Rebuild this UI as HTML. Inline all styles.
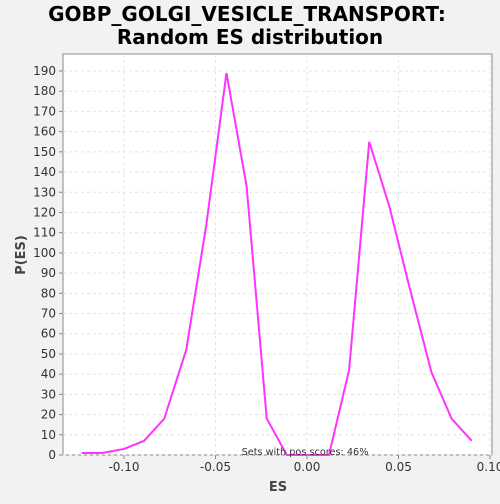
<!DOCTYPE html>
<html><head><meta charset="utf-8"><style>
body{margin:0;background:#f2f2f2;width:500px;height:500px;overflow:hidden;font-family:"DejaVu Sans","Liberation Sans",sans-serif}
</style></head><body>
<svg width="500" height="500" id="c">
<rect x="0" y="0" width="500" height="500" fill="#f2f2f2"/>
<text x="247" y="21" text-anchor="middle" font-size="20" font-weight="bold" fill="#000">GOBP_GOLGI_VESICLE_TRANSPORT:</text>
<text x="250" y="44" text-anchor="middle" font-size="20" font-weight="bold" fill="#000">Random ES distribution</text>
<rect x="63" y="54" width="429" height="401" fill="#fff" stroke="#888"/>
<g id="grid"></g><g id="ticks"></g>
<text x="278" y="491" text-anchor="middle" font-size="13" font-weight="bold" fill="#444">ES</text>
<text x="25" y="255" text-anchor="middle" font-size="13" font-weight="bold" fill="#444" transform="rotate(-90 25 255)">P(ES)</text>
<polyline id="line" fill="none" stroke="#ff33ff" stroke-width="2"/>
<text x="305" y="455" text-anchor="middle" font-size="9.7" fill="#333">Sets with pos scores: 46%</text>
</svg>
<script>
const esValues=[-0.123,-0.112,-0.100,-0.089,-0.078,-0.066,-0.055,-0.044,-0.033,-0.022,-0.011,0.0,0.012,0.023,0.034,0.045,0.056,0.068,0.079,0.090];
const density=[1,1,3,7,18,52,114,189,133,18,0,0,0,42,155,123,83,41,18,7];
const xTicks=[-0.10,-0.05,0.00,0.05,0.10];
const xTickLabels=["-0.10","-0.05","0.00","0.05","0.10"];
const yTicks=[0,10,20,30,40,50,60,70,80,90,100,110,120,130,140,150,160,170,180,190];
const ns="http://www.w3.org/2000/svg";
function X(v){return 307+v*1830;}
function Y(v){return 455-v*2.021;}
const g=document.getElementById('grid'),t=document.getElementById('ticks');
function mk(tag,a,p){const e=document.createElementNS(ns,tag);for(const k in a)e.setAttribute(k,a[k]);p.appendChild(e);return e;}
yTicks.forEach(v=>{
 const l=mk('line',{x1:63,x2:492,y1:Y(v),y2:Y(v),stroke:'#e4e4e4','stroke-dasharray':'3,3'},g);
 
 
 const tk=mk('line',{x1:59,x2:63,y1:Y(v),y2:Y(v),stroke:'#888'},t);
 
 
 const tx=mk('text',{x:56,y:Y(v)+4,'text-anchor':'end','font-size':12,fill:'#333'},t);
 tx.textContent=v;
 
 
});
xTicks.forEach((v,i)=>{
 const l=mk('line',{x1:X(v),x2:X(v),y1:54,y2:455,stroke:'#e4e4e4','stroke-dasharray':'3,3'},g);
 
 
 const tk=mk('line',{x1:X(v),x2:X(v),y1:455,y2:459,stroke:'#888'},t);
 
 
 const tx=mk('text',{x:X(v),y:471,'text-anchor':'middle','font-size':12,fill:'#333'},t);
 tx.textContent=xTickLabels[i];
 
 
});
document.getElementById('line').setAttribute('points',esValues.map((v,i)=>X(v)+','+Y(density[i])).join(' '));
</script>
</body></html>
